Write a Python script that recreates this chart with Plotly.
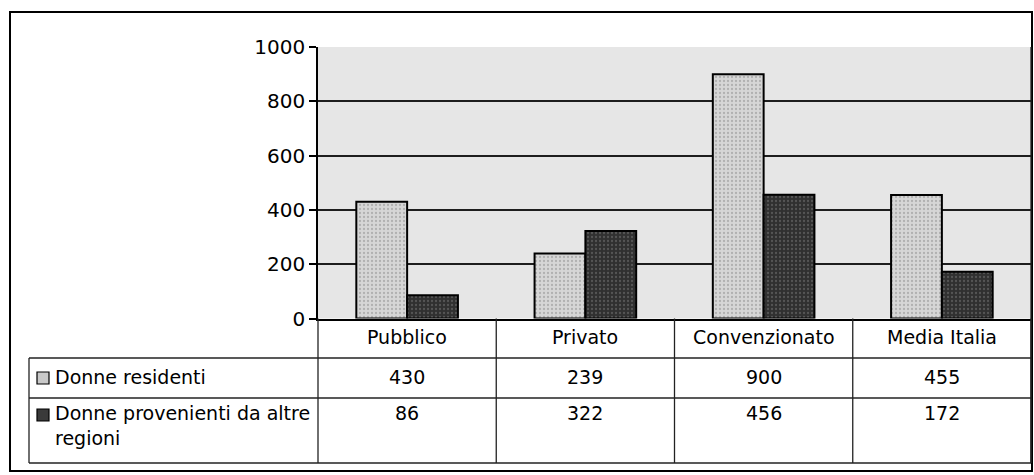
import plotly.graph_objects as go

# data
categories = ['Pubblico', 'Privato', 'Convenzionato', 'Media Italia']
residenti = [430, 239, 900, 455]
altre_regioni = [86, 322, 456, 172]
series_names = ['Donne residenti', 'Donne provenienti da altre<br>regioni']
y_ticks = [0, 200, 400, 600, 800, 1000]

W, H = 1034, 475
FONT = 'DejaVu Sans'
LIGHT = '#c9c9c9'
DARK = '#3a3a3a'


def px(x):
    return x / W


def py(y):
    return 1 - y / H


# layout in pixels (measured on the reference)
plot_l, plot_r = 318, 1031
plot_t, plot_b = 47, 318.5
row1_t, row2_t, table_b = 358, 398, 463
table_l = 29

fig = go.Figure()
fig.add_trace(go.Bar(
    x=categories, y=residenti, name=series_names[0],
    marker=dict(color=LIGHT, line=dict(color='black', width=2),
                pattern=dict(shape='.', fgcolor='#8a8a8a', bgcolor='#d6d6d6',
                             size=4, solidity=0.25)),
))
fig.add_trace(go.Bar(
    x=categories, y=altre_regioni, name=series_names[1],
    marker=dict(color=DARK, line=dict(color='black', width=2),
                pattern=dict(shape='.', fgcolor='#7a7a7a', bgcolor='#303030',
                             size=4, solidity=0.25)),
))

fig.update_layout(
    width=W, height=H,
    margin=dict(l=0, r=0, t=0, b=0, autoexpand=False),
    paper_bgcolor='white',
    plot_bgcolor='#e6e6e6',
    barmode='group', bargap=0.43, bargroupgap=0,
    showlegend=False,
    font=dict(family=FONT, size=19, color='black'),
)
fig.update_xaxes(
    domain=[px(plot_l), px(plot_r)], automargin=False,
    showticklabels=False, ticks='', showgrid=False,
    showline=True, linecolor='black', linewidth=1.5,
)
fig.update_yaxes(
    domain=[py(plot_b), py(plot_t)], range=[0, 1000], automargin=False,
    tickvals=y_ticks, ticks='outside', ticklen=7, tickcolor='black', tickwidth=1.5,
    tickfont=dict(family=FONT, size=20), ticklabelstandoff=0,
    showgrid=True, gridcolor='#1e1e1e', gridwidth=1.5,
    zeroline=False, showline=True, linecolor='black', linewidth=1.5,
)

line = dict(color='#222', width=1.3)
shapes = [
    # outer frame
    dict(type='rect', xref='paper', yref='paper', x0=px(10), x1=px(1032),
         y0=py(471), y1=py(12), line=dict(color='black', width=2)),
    # plot right border
    dict(type='line', xref='paper', yref='paper', x0=px(plot_r), x1=px(plot_r),
         y0=py(table_b), y1=py(plot_t), line=line),
    # table rows
    dict(type='line', xref='paper', yref='paper', x0=px(table_l), x1=px(plot_r),
         y0=py(row1_t), y1=py(row1_t), line=line),
    dict(type='line', xref='paper', yref='paper', x0=px(table_l), x1=px(plot_r),
         y0=py(row2_t), y1=py(row2_t), line=line),
    dict(type='line', xref='paper', yref='paper', x0=px(table_l), x1=px(plot_r),
         y0=py(table_b), y1=py(table_b), line=line),
    dict(type='line', xref='paper', yref='paper', x0=px(table_l), x1=px(table_l),
         y0=py(table_b), y1=py(row1_t), line=line),
    # legend keys
    dict(type='rect', xref='paper', yref='paper', x0=px(37), x1=px(49),
         y0=py(384), y1=py(372), fillcolor=LIGHT, line=dict(color='black', width=1.2)),
    dict(type='rect', xref='paper', yref='paper', x0=px(37), x1=px(49),
         y0=py(421), y1=py(409), fillcolor=DARK, line=dict(color='black', width=1.2)),
]
col_w = (plot_r - plot_l) / len(categories)
for i in range(len(categories) + 1):
    x = plot_l + i * col_w
    shapes.append(dict(type='line', xref='paper', yref='paper', x0=px(x), x1=px(x),
                       y0=py(table_b), y1=py(plot_b), line=line))
fig.update_layout(shapes=shapes)

ann = []
for i, cat in enumerate(categories):
    cx = px(plot_l + (i + 0.5) * col_w)
    ann.append(dict(x=cx, y=py(337), text=cat))
    ann.append(dict(x=cx, y=py(377), text=str(residenti[i])))
    ann.append(dict(x=cx, y=py(413), text=str(altre_regioni[i])))
for a in ann:
    a.update(xref='paper', yref='paper', showarrow=False, xanchor='center',
             yanchor='middle', font=dict(family=FONT, size=19))
ann.append(dict(x=px(53), y=py(377), text=series_names[0], xref='paper', yref='paper',
                showarrow=False, xanchor='left', yanchor='middle',
                font=dict(family=FONT, size=19)))
ann.append(dict(x=px(53), y=py(400), text=series_names[1], xref='paper', yref='paper',
                showarrow=False, xanchor='left', yanchor='top', align='left',
                font=dict(family=FONT, size=19)))
fig.update_layout(annotations=ann)

fig.write_html(
    'out.html',
    config={'displayModeBar': False},
    post_script="document.body.style.margin='0';document.body.style.overflow='hidden';",
)
